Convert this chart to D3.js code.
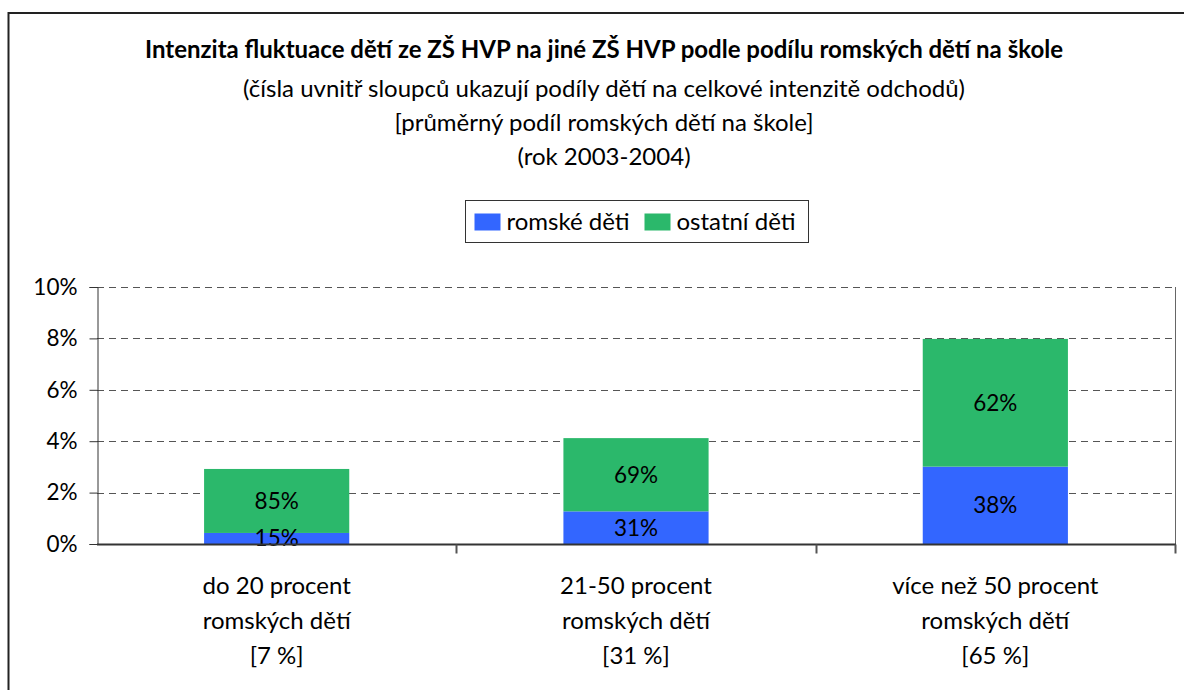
<!DOCTYPE html>
<html>
<head>
<meta charset="utf-8">
<script src="https://cdn.jsdelivr.net/npm/d3@7"></script>
<style>
  body { margin: 0; background: white; }
  svg text { font-family: Lato, "Open Sans", sans-serif; fill: #000; }
</style>
</head>
<body>
<div id="chart"></div>
<script>
// chart data
const categories = ["do 20 procent|romských dětí|[7 %]", "21-50 procent|romských dětí|[31 %]", "více než 50 procent|romských dětí|[65 %]"];
const romske = [0.0043, 0.0127, 0.0301];   // intenzita odchodu, romské děti
const ostatni = [0.0249, 0.0285, 0.0497];  // intenzita odchodu, ostatní děti
const romskeShare = ["15%", "31%", "38%"];
const ostatniShare = ["85%", "69%", "62%"];
const yTicks = [0, 0.02, 0.04, 0.06, 0.08, 0.10];
const seriesNames = ["romské děti", "ostatní děti"];
const COLORS = ["#3366FF", "#2BB86B"];

const titleLines = [
	"Intenzita fluktuace dětí ze ZŠ HVP na jiné ZŠ HVP podle podílu romských dětí na škole",
	"(čísla uvnitř sloupců ukazují podíly dětí na celkové intenzitě odchodů)",
	"[průměrný podíl romských dětí na škole]",
	"(rok 2003-2004)"
];

const width = 1184, height = 690;
const plot = { left: 97, right: 1175, top: 287, bottom: 544 };
const textSize = "24px", numSize = "22.5px";

const svg = d3.select("#chart")
	.append("svg")
	.attr("width", width)
	.attr("height", height);

// outer frame (runs off the bottom / right like the original)
svg.append("rect")
	.attr("x", 8.5).attr("y", 13)
	.attr("width", 1200).attr("height", 700)
	.attr("fill", "white")
	.attr("stroke", "#222")
	.attr("stroke-width", 2);

// title block
const titleY = [50, 89, 123, 157];
svg.selectAll(".title")
	.data(titleLines)
	.enter()
	.append("text")
	.attr("class", "title")
	.attr("x", 604)
	.attr("y", (d, i) => titleY[i])
	.attr("dy", "0.35em")
	.attr("text-anchor", "middle")
	.style("font-size", textSize)
	.style("font-weight", (d, i) => i == 0 ? "bold" : "normal")
	.text(d => d);

// scales
const x = d3.scaleBand()
	.domain(categories)
	.range([plot.left, plot.right])
	.padding(0);

const y = d3.scaleLinear()
	.domain([0, 0.10])
	.range([plot.bottom, plot.top]);

const barW = x.bandwidth() * 0.404;

// gridlines
svg.append("g")
	.selectAll("line")
	.data(yTicks.filter(t => t > 0))
	.enter()
	.append("line")
	.attr("x1", plot.left).attr("x2", plot.right)
	.attr("y1", d => Math.round(y(d)) + 0.5)
	.attr("y2", d => Math.round(y(d)) + 0.5)
	.attr("stroke", "#555")
	.attr("stroke-dasharray", "7,5");

// right border of plot area
svg.append("line")
	.attr("x1", plot.right + 0.5).attr("x2", plot.right + 0.5)
	.attr("y1", plot.top).attr("y2", plot.bottom)
	.attr("stroke", "#666");

// stacked bars
const stack = categories.map((c, i) => ({
	cat: c,
	segs: [
		{ y0: 0, y1: romske[i], label: romskeShare[i], color: COLORS[0] },
		{ y0: romske[i], y1: romske[i] + ostatni[i], label: ostatniShare[i], color: COLORS[1] }
	]
}));

const groups = svg.selectAll(".bar")
	.data(stack)
	.enter()
	.append("g")
	.attr("class", "bar")
	.attr("transform", d => `translate(${x(d.cat) + (x.bandwidth() - barW) / 2},0)`);

groups.selectAll("rect")
	.data(d => d.segs)
	.enter()
	.append("rect")
	.attr("x", 0)
	.attr("width", barW)
	.attr("y", d => y(d.y1))
	.attr("height", d => y(d.y0) - y(d.y1))
	.attr("fill", d => d.color);

groups.selectAll("text")
	.data(d => d.segs)
	.enter()
	.append("text")
	.attr("x", barW / 2)
	.attr("y", d => (y(d.y0) + y(d.y1)) / 2)
	.attr("dy", "0.35em")
	.attr("text-anchor", "middle")
	.style("font-size", numSize)
	.text(d => d.label);

// y axis
const yAxis = svg.append("g")
	.attr("transform", `translate(${plot.left + 0.5},0)`)
	.call(d3.axisLeft(y)
		.tickValues(yTicks)
		.tickSize(8)
		.tickPadding(12)
		.tickFormat(d => Math.round(d * 100) + "%"));
yAxis.select(".domain").attr("stroke", "#333");
yAxis.selectAll(".tick line").attr("stroke", "#333");
yAxis.selectAll("text").style("font-size", numSize).attr("fill", "#000");

// x axis: ticks at category boundaries
const xAxis = svg.append("g")
	.attr("transform", `translate(0,${plot.bottom + 0.5})`);
xAxis.append("line")
	.attr("x1", plot.left).attr("x2", plot.right + 1)
	.attr("stroke", "#333").attr("stroke-width", 2);
xAxis.selectAll(".xtick")
	.data(categories)
	.enter()
	.append("line")
	.attr("class", "xtick")
	.attr("x1", d => Math.round(x(d) + x.bandwidth()) + 0.5)
	.attr("x2", d => Math.round(x(d) + x.bandwidth()) + 0.5)
	.attr("y1", 0).attr("y2", 9)
	.attr("stroke", "#555").attr("stroke-width", 2);

// category labels (three lines each)
const labels = xAxis.selectAll(".xlabel")
	.data(categories)
	.enter()
	.append("text")
	.attr("class", "xlabel")
	.attr("text-anchor", "middle")
	.style("font-size", textSize);

labels.selectAll("tspan")
	.data(d => d.split("|").map(t => ({ t: t, c: d })))
	.enter()
	.append("tspan")
	.attr("x", d => x(d.c) + x.bandwidth() / 2)
	.attr("y", (d, i) => 41 + i * 35)
	.attr("dy", "0.35em")
	.text(d => d.t);

// legend
const legend = svg.append("g")
	.attr("transform", "translate(465.5,200.5)");
legend.append("rect")
	.attr("width", 343).attr("height", 42)
	.attr("fill", "white")
	.attr("stroke", "#333");

const legendX = [9, 179];
seriesNames.forEach(function(name, i) {
	legend.append("rect")
		.attr("x", legendX[i]).attr("y", 13)
		.attr("width", 26).attr("height", 17)
		.attr("fill", COLORS[i]);
	legend.append("text")
		.attr("x", legendX[i] + 32)
		.attr("y", 21)
		.attr("dy", "0.35em")
		.style("font-size", textSize)
		.text(name);
});
</script>
</body>
</html>
